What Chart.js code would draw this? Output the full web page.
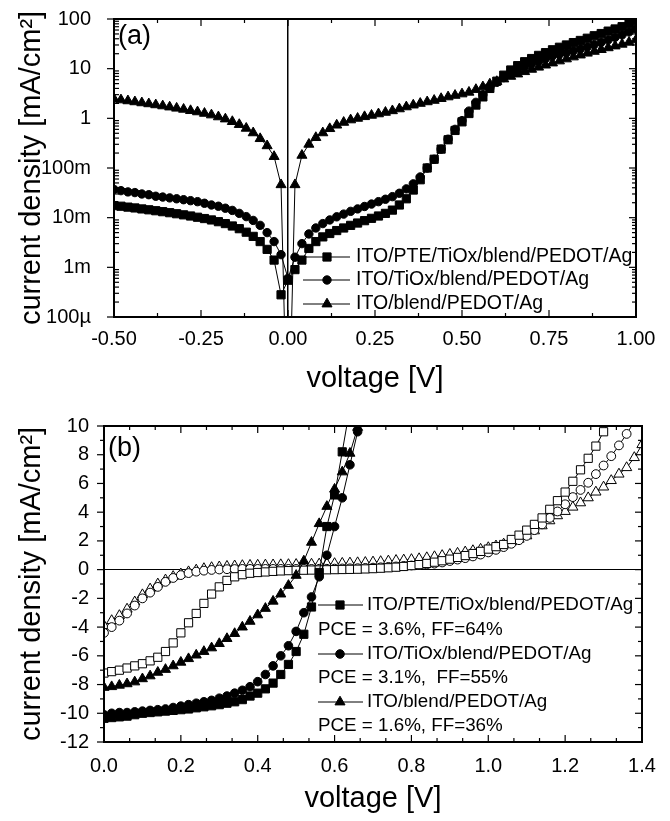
<!DOCTYPE html>
<html>
<head>
<meta charset="utf-8">
<script src="https://cdn.jsdelivr.net/npm/chart.js@4.4.1/dist/chart.umd.min.js"></script>
<style>
  body { margin: 0; background: #fff; width: 670px; height: 821px; overflow: hidden; position: relative; }
  canvas { position: absolute; left: 0; }
  #chartA { top: 0; }
  #chartB { top: 410px; }
</style>
</head>
<body>
<canvas id="chartA" width="670" height="410"></canvas>
<canvas id="chartB" width="670" height="411"></canvas>
<script>
// ---- panel (a): |J| vs V, log scale, mA/cm2 ----
const voltA = [-0.50,-0.48,-0.46,-0.44,-0.42,-0.40,-0.38,-0.36,-0.34,-0.32,-0.30,-0.28,-0.26,-0.24,-0.22,-0.20,-0.18,-0.16,-0.14,-0.12,-0.10,-0.08,-0.06,-0.04,-0.02,
  0.00,0.02,0.04,0.06,0.08,0.10,0.12,0.14,0.16,0.18,0.20,0.22,0.24,0.26,0.28,0.30,0.32,0.34,0.36,0.38,0.40,0.42,0.44,0.46,0.48,
  0.50,0.52,0.54,0.56,0.58,0.60,0.62,0.64,0.66,0.68,0.70,0.72,0.74,0.76,0.78,0.80,0.82,0.84,0.86,0.88,0.90,0.92,0.94,0.96,0.98,1.00];
const pteA = [0.0175,0.017,0.0163,0.0157,0.015,0.0144,0.0138,0.0132,0.0126,0.012,0.0114,0.0108,0.0102,0.0096,0.009,0.0083,0.0076,0.0068,0.006,0.0051,0.0042,0.0033,0.0023,0.0014,0.00028,
  0.00055,0.0009,0.0014,0.0024,0.0033,0.0041,0.0048,0.0055,0.0062,0.0070,0.0078,0.0087,0.0097,0.0108,0.0122,0.0142,0.018,0.024,0.036,0.058,0.10,0.15,0.24,0.37,0.57,
  0.85,1.25,1.85,2.7,4.0,5.6,7.4,9.4,11.5,13.8,16,18.5,21,24,27,30,33.5,37,41,46,51,57,63,70,80,92];
const tioxA = [0.037,0.035,0.033,0.032,0.030,0.029,0.027,0.026,0.025,0.024,0.023,0.022,0.021,0.0195,0.018,0.017,0.0155,0.014,0.0122,0.0105,0.0088,0.0070,0.0050,0.0033,0.0018,
  0.0006,0.0016,0.0030,0.0047,0.0062,0.0076,0.0090,0.0104,0.0118,0.0134,0.015,0.0168,0.0188,0.021,0.0235,0.0265,0.031,0.038,0.048,0.066,0.10,0.15,0.24,0.38,0.6,
  0.9,1.4,2.1,3.0,4.1,5.3,6.6,8.0,9.4,11,12.5,14,16,18,19.5,21,23,25,27.5,30.5,34,38,43,48,55,63];
const blendA = [2.45,2.35,2.25,2.15,2.05,1.96,1.87,1.78,1.69,1.60,1.52,1.43,1.35,1.26,1.17,1.07,0.97,0.86,0.75,0.63,0.51,0.39,0.28,0.17,0.046,
  0.0000001,0.046,0.18,0.30,0.41,0.51,0.62,0.73,0.83,0.93,1.0,1.08,1.15,1.23,1.32,1.42,1.55,1.7,1.85,2.0,2.15,2.3,2.5,2.7,2.9,
  3.1,3.35,3.8,4.3,4.9,5.5,6.2,7.0,7.8,8.7,9.7,10.7,11.8,13.0,14.3,15.7,17.2,18.8,20.5,22.3,24.2,26.3,28.6,31,34,38];
const xTicksA = [-0.5, -0.25, 0, 0.25, 0.5, 0.75, 1.0];
const xLabelsA = ['-0.50', '-0.25', '0.00', '0.25', '0.50', '0.75', '1.00'];
const xMinorA = [-0.375, -0.125, 0.125, 0.375, 0.625, 0.875];
const yTicksA = [1e-4, 1e-3, 1e-2, 1e-1, 1, 10, 100];
const yLabelsA = ['100µ', '1m', '10m', '100m', '1', '10', '100'];

// ---- panel (b): J vs V, linear, mA/cm2 ----
const voltB = [0.00,0.02,0.04,0.06,0.08,0.10,0.12,0.14,0.16,0.18,0.20,0.22,0.24,0.26,0.28,0.30,0.32,0.34,0.36,0.38,
  0.40,0.42,0.44,0.46,0.48,0.50,0.52,0.54,0.56,0.58,0.60,0.62,0.64,0.66,0.68,0.70,0.72,0.74,0.76,0.78,
  0.80,0.82,0.84,0.86,0.88,0.90,0.92,0.94,0.96,0.98,1.00,1.02,1.04,1.06,1.08,1.10,1.12,1.14,1.16,1.18,
  1.20,1.22,1.24,1.26,1.28,1.30,1.32,1.34,1.36,1.38,1.40];
// illuminated (filled markers)
const pteLight = [-10.35,-10.3,-10.25,-10.2,-10.1,-10.0,-9.95,-9.9,-9.85,-9.8,-9.75,-9.7,-9.62,-9.55,-9.48,-9.4,-9.3,-9.2,-9.05,-8.8,
  -8.6,-8.3,-7.9,-7.3,-6.6,-5.7,-4.5,-2.6,-0.2,3.0,5.2,8.2,11.3];
const tioxLight = [-10.1,-10.0,-9.95,-9.95,-9.9,-9.85,-9.8,-9.75,-9.7,-9.6,-9.5,-9.4,-9.3,-9.2,-9.1,-8.95,-8.8,-8.6,-8.4,-8.15,
  -7.8,-7.3,-6.7,-6.0,-5.3,-4.3,-3.0,-1.9,-0.5,1.0,3.0,5.0,7.3,9.6,12];
const blendLight = [-8.2,-8.15,-8.05,-7.95,-7.82,-7.6,-7.4,-7.15,-6.95,-6.7,-6.45,-6.2,-5.95,-5.7,-5.45,-5.15,-4.8,-4.45,-4.0,-3.6,
  -3.15,-2.7,-2.2,-1.7,-1.1,-0.4,0.6,1.9,3.2,4.4,5.6,6.8,8.1,9.9,11.5];
// open markers
const pteOpen = [-7.2,-7.1,-7.0,-6.85,-6.7,-6.55,-6.35,-6.1,-5.7,-5.1,-4.4,-3.7,-3.05,-2.35,-1.7,-1.2,-0.75,-0.5,-0.35,-0.25,
  -0.2,-0.16,-0.12,-0.09,-0.07,-0.05,-0.04,-0.03,-0.02,-0.01,0.0,0.01,0.02,0.03,0.05,0.07,0.1,0.13,0.17,0.22,
  0.28,0.35,0.43,0.52,0.62,0.73,0.85,0.98,1.12,1.27,1.43,1.6,1.75,2.1,2.4,2.75,3.15,3.6,4.2,4.8,
  5.4,6.15,6.95,7.75,8.6,9.6,10.6];
const tioxOpen = [-4.4,-4.0,-3.55,-3.05,-2.5,-2.0,-1.6,-1.2,-0.85,-0.58,-0.38,-0.24,-0.14,-0.07,-0.02,0.01,0.03,0.04,0.05,0.05,
  0.05,0.05,0.05,0.05,0.05,0.05,0.05,0.05,0.06,0.06,0.07,0.08,0.09,0.1,0.12,0.14,0.16,0.19,0.22,0.26,
  0.29,0.32,0.36,0.42,0.5,0.6,0.7,0.8,0.92,1.05,1.2,1.38,1.57,1.8,2.05,2.35,2.75,3.15,3.6,4.05,
  4.55,5.05,5.55,6.05,6.65,7.25,7.9,8.65,9.45,10.3,11.2];
const blendOpen = [-3.9,-3.55,-3.2,-2.75,-2.25,-1.75,-1.35,-1.0,-0.72,-0.48,-0.3,-0.15,-0.03,0.07,0.14,0.19,0.23,0.26,0.28,0.3,
  0.31,0.32,0.33,0.34,0.35,0.36,0.37,0.38,0.39,0.4,0.42,0.44,0.46,0.48,0.5,0.53,0.56,0.6,0.64,0.67,
  0.7,0.76,0.83,0.9,0.98,1.06,1.14,1.23,1.32,1.42,1.53,1.65,1.78,1.93,2.12,2.35,2.7,3.05,3.4,3.75,
  4.05,4.35,4.65,5.0,5.4,5.75,6.2,6.65,7.1,7.8,8.7];
const xTicksB = [0, 0.2, 0.4, 0.6, 0.8, 1.0, 1.2, 1.4];
const xLabelsB = ['0.0', '0.2', '0.4', '0.6', '0.8', '1.0', '1.2', '1.4'];
const yTicksB = [-12, -10, -8, -6, -4, -2, 0, 2, 4, 6, 8, 10];
const yLabelsB = ['-12', '-10', '-8', '-6', '-4', '-2', '0', '2', '4', '6', '8', '10'];

const devices = ['ITO/PTE/TiOx/blend/PEDOT/Ag', 'ITO/TiOx/blend/PEDOT/Ag', 'ITO/blend/PEDOT/Ag'];
const pceNotes = ['PCE = 3.6%, FF=64%', 'PCE = 3.1%,  FF=55%', 'PCE = 1.6%, FF=36%'];

const FONT = "'Liberation Sans', Arial, Helvetica, sans-serif";
Chart.defaults.font.family = FONT;
Chart.defaults.color = '#000';

// minor tick positions (not data)
const xMinorB = [];
xTicksB.slice(0, -1).forEach(v => { xMinorB.push(v + 0.2 / 3, v + 0.4 / 3); });
const yMinorB = yTicksB.slice(0, -1).map(v => v + 1);
const yMinorA = [];
yTicksA.slice(0, -1).forEach(d => { for (let k = 2; k <= 9; k++) yMinorA.push(d * k); });

function pts(xs, ys) {
  return ys.map((y, i) => ({ x: xs[i], y: y }));
}

function makeSet(label, xs, ys, style, filled, r) {
  return {
    label: label,
    data: pts(xs, ys),
    showLine: true,
    borderColor: '#000',
    borderWidth: 1,
    pointStyle: style,
    pointRadius: r,
    pointHoverRadius: r,
    pointBackgroundColor: filled ? '#000' : '#fff',
    pointBorderColor: '#000',
    pointBorderWidth: 1,
    clip: 0
  };
}

function marker(ctx, ds, x, y) {
  if (Chart.helpers && Chart.helpers.drawPoint) {
    Chart.helpers.drawPoint(ctx, { pointStyle: ds.pointStyle, radius: ds.pointRadius, rotation: 0, borderWidth: 1 }, x, y);
    return;
  }
  ctx.beginPath();
  ctx.arc(x, y, ds.pointRadius, 0, Math.PI * 2);
  ctx.fill();
}

// fixed scale boxes so the plot area lands where the figure has it
function fixBox(size) {
  return s => {
    if (s.isHorizontal()) s.height = size; else s.width = size;
    s.paddingTop = 0; s.paddingBottom = 0; s.paddingLeft = 0; s.paddingRight = 0;
  };
}

// frame, inward ticks, panel tag and legend
const panelDecor = {
  id: 'panelDecor',
  afterDatasetsDraw(chart, args, o) {
    const ctx = chart.ctx, a = chart.chartArea;
    const xs = chart.scales.x, ys = chart.scales.y;
    const seg = (x1, y1, x2, y2) => { ctx.beginPath(); ctx.moveTo(x1, y1); ctx.lineTo(x2, y2); ctx.stroke(); };
    ctx.save();
    ctx.strokeStyle = '#000';
    ctx.lineWidth = 1.2;
    o.xMajor.forEach(v => { const p = xs.getPixelForValue(v); seg(p, a.bottom, p, a.bottom - 7); seg(p, a.top, p, a.top + 7); });
    o.xMinor.forEach(v => { const p = xs.getPixelForValue(v); seg(p, a.bottom, p, a.bottom - 4); seg(p, a.top, p, a.top + 4); });
    o.yMajor.forEach(v => { const p = ys.getPixelForValue(v); seg(a.left - 7, p, a.left, p); seg(a.right, p, a.right - 7, p); });
    o.yMinor.forEach(v => { const p = ys.getPixelForValue(v); seg(a.left + o.leftMinor, p, a.left, p); seg(a.right, p, a.right - 4, p); });
    ctx.lineWidth = 2;
    ctx.strokeRect(a.left, a.top, a.right - a.left, a.bottom - a.top);

    ctx.fillStyle = '#000';
    ctx.font = '27px ' + FONT;
    ctx.textAlign = 'left';
    ctx.textBaseline = 'alphabetic';
    ctx.fillText(o.tag, a.left + 4, a.top + o.tagDy);

    const L = o.legend;
    ctx.font = L.size + 'px ' + FONT;
    ctx.textBaseline = 'middle';
    L.rows.forEach((dy, i) => {
      const ds = chart.data.datasets[i];
      const y = a.top + dy;
      ctx.lineWidth = 1;
      ctx.strokeStyle = '#000';
      seg(a.left + L.x1, y, a.left + L.x2, y);
      ctx.fillStyle = ds.pointBackgroundColor;
      marker(ctx, ds, a.left + L.xm, y);
      ctx.fillStyle = '#000';
      ctx.fillText(ds.label, a.left + L.xt, y);
    });
    (L.notes || []).forEach((dy, i) => ctx.fillText(pceNotes[i], a.left + L.xn, a.top + dy));
    ctx.restore();
  }
};

function zeroLine(c) {
  return c.tick && c.tick.value === 0 ? '#000' : 'rgba(0,0,0,0)';
}

const yTitle = { display: true, text: 'current density [mA/cm²]', font: { size: 29 }, padding: { top: 15, bottom: 0 } };

new Chart(document.getElementById('chartA'), {
  type: 'scatter',
  data: {
    datasets: [
      makeSet(devices[0], voltA, pteA, 'rect', true, 5.8),
      makeSet(devices[1], voltA, tioxA, 'circle', true, 4.2),
      makeSet(devices[2], voltA, blendA, 'triangle', true, 5.8)
    ]
  },
  options: {
    responsive: false,
    animation: false,
    events: [],
    layout: { padding: { left: 0, top: 19, right: 34, bottom: 0 } },
    scales: {
      x: {
        type: 'linear', min: -0.5, max: 1.0,
        afterBuildTicks: s => { s.ticks = xTicksA.map(v => ({ value: v })); },
        afterFit: fixBox(93),
        ticks: { padding: 10, font: { size: 20 }, autoSkip: false, maxRotation: 0, callback: (v, i) => xLabelsA[i] },
        grid: { drawTicks: false, lineWidth: 1.5, color: zeroLine },
        border: { display: false },
        title: { display: true, text: 'voltage [V]', font: { size: 29 }, padding: { top: 0, bottom: 14 } }
      },
      y: {
        type: 'logarithmic', min: 1e-4, max: 100,
        afterBuildTicks: s => { s.ticks = yTicksA.map(v => ({ value: v })); },
        afterFit: fixBox(114),
        ticks: { padding: 15, font: { size: 20 }, autoSkip: false, callback: (v, i) => yLabelsA[i] },
        grid: { display: false },
        border: { display: false },
        title: yTitle
      }
    },
    plugins: {
      legend: { display: false },
      tooltip: { enabled: false },
      panelDecor: {
        xMajor: xTicksA, xMinor: xMinorA, yMajor: yTicksA, yMinor: yMinorA, leftMinor: 5,
        tag: '(a)', tagDy: 25,
        legend: { size: 19.5, x1: 189, x2: 236, xm: 213, xt: 242, rows: [238, 261, 285] }
      }
    }
  },
  plugins: [panelDecor]
});

new Chart(document.getElementById('chartB'), {
  type: 'scatter',
  data: {
    datasets: [
      makeSet(devices[0], voltB, pteLight, 'rect', true, 5.8),
      makeSet(devices[1], voltB, tioxLight, 'circle', true, 4.3),
      makeSet(devices[2], voltB, blendLight, 'triangle', true, 5.8),
      makeSet(devices[0], voltB, pteOpen, 'rect', false, 5.8),
      makeSet(devices[1], voltB, tioxOpen, 'circle', false, 4.4),
      makeSet(devices[2], voltB, blendOpen, 'triangle', false, 5.9)
    ]
  },
  options: {
    responsive: false,
    animation: false,
    events: [],
    layout: { padding: { left: 0, top: 16, right: 28, bottom: 0 } },
    scales: {
      x: {
        type: 'linear', min: 0, max: 1.4,
        afterBuildTicks: s => { s.ticks = xTicksB.map(v => ({ value: v })); },
        afterFit: fixBox(79),
        ticks: { padding: 4, font: { size: 20 }, autoSkip: false, maxRotation: 0, callback: (v, i) => xLabelsB[i] },
        grid: { display: false },
        border: { display: false },
        title: { display: true, text: 'voltage [V]', font: { size: 29 }, padding: { top: 0, bottom: 5 } }
      },
      y: {
        type: 'linear', min: -12, max: 10,
        afterBuildTicks: s => { s.ticks = yTicksB.map(v => ({ value: v })); },
        afterFit: fixBox(104),
        ticks: { padding: 15, font: { size: 20 }, autoSkip: false, callback: (v, i) => yLabelsB[i] },
        grid: { drawTicks: false, lineWidth: 1, color: zeroLine },
        border: { display: false },
        title: yTitle
      }
    },
    plugins: {
      legend: { display: false },
      tooltip: { enabled: false },
      panelDecor: {
        xMajor: xTicksB, xMinor: xMinorB, yMajor: yTicksB, yMinor: yMinorB, leftMinor: -4,
        tag: '(b)', tagDy: 30,
        legend: { size: 18.8, x1: 214, x2: 259, xm: 236, xt: 263, xn: 214, rows: [179, 228, 276], notes: [204, 252, 300] }
      }
    }
  },
  plugins: [panelDecor]
});
</script>
</body>
</html>
